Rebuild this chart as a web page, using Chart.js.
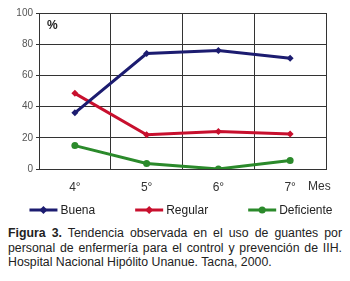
<!DOCTYPE html>
<html lang="es">
<head>
  <meta charset="UTF-8">
  <title>Tendencia uso de guantes</title>
  <script src="https://cdn.jsdelivr.net/npm/chart.js"></script>
  <style>
    body {
      margin: 0;
      width: 350px;
      height: 281px;
      background: #fff;
      font-family: Arial, "Liberation Sans", sans-serif;
      overflow: hidden;
    }
    #chart-container {
      width: 350px;
      height: 222px;
    }
    #caption {
      margin: 4px 8px 0 8px;
      font-size: 12.3px;
      line-height: 14.5px;
      color: #222;
      text-align: justify;
    }
  </style>
</head>
<body>
  <div id="chart-container">
    <canvas id="chart"></canvas>
  </div>
  <div id="caption"><b>Figura 3.</b> Tendencia observada en el uso de guantes por personal de enfermería para el control y prevención de IIH. Hospital Nacional Hipólito Unanue. Tacna, 2000.</div>
  <script>
    // datos
    const meses = ["4°", "5°", "6°", "7°"];
    const buena = [36, 74, 76, 71];
    const regular = [48.5, 22, 24, 22.5];
    const deficiente = [15, 3.5, 0, 5.5];

    const font = "Arial, 'Liberation Sans', sans-serif";

    // leyenda y textos extra dibujados en el canvas
    const extras = {
      id: "extras",
      afterDraw(chart) {
        const ctx = chart.ctx;
        const area = chart.chartArea;
        ctx.save();
        ctx.fillStyle = "#222";
        ctx.font = "bold 12px " + font;
        ctx.textBaseline = "middle";
        ctx.fillText("%", area.left + 8, area.top + 13);

        ctx.font = "12px " + font;
        ctx.fillStyle = "#333";
        ctx.fillText("Mes", 308, 187);

        // leyenda
        const sets = chart.data.datasets;
        const lineW = 28, gap = 40;
        const widths = sets.map(ds => lineW + 3 + ctx.measureText(ds.label).width);
        const total = widths.reduce((a, b) => a + b, 0) + gap * (sets.length - 1);
        let x = 181 - total / 2;
        const y = 210;
        sets.forEach((ds, i) => {
          ctx.strokeStyle = ds.borderColor;
          ctx.lineWidth = 3;
          ctx.beginPath();
          ctx.moveTo(x, y);
          ctx.lineTo(x + lineW, y);
          ctx.stroke();
          ctx.fillStyle = ds.borderColor;
          ctx.beginPath();
          const cx = x + lineW / 2;
          if (ds.pointStyle === "circle") {
            ctx.arc(cx, y, 3.5, 0, Math.PI * 2);
          } else {
            ctx.moveTo(cx, y - 4);
            ctx.lineTo(cx + 4, y);
            ctx.lineTo(cx, y + 4);
            ctx.lineTo(cx - 4, y);
            ctx.closePath();
          }
          ctx.fill();
          ctx.fillStyle = "#222";
          ctx.fillText(ds.label, x + lineW + 3, y + 1);
          x += widths[i] + gap;
        });
        ctx.restore();
      }
    };

    const ctx = document.getElementById("chart").getContext("2d");
    new Chart(ctx, {
      type: "line",
      data: {
        labels: meses,
        datasets: [
          {
            label: "Buena",
            data: buena,
            borderColor: "#1c1c70",
            backgroundColor: "#1c1c70",
            pointStyle: "rectRot",
          },
          {
            label: "Regular",
            data: regular,
            borderColor: "#c8102e",
            backgroundColor: "#c8102e",
            pointStyle: "rectRot",
          },
          {
            label: "Deficiente",
            data: deficiente,
            borderColor: "#2b8a2b",
            backgroundColor: "#2b8a2b",
            pointStyle: "circle",
          },
        ],
      },
      options: {
        responsive: true,
        maintainAspectRatio: false,
        animation: false,
        layout: { padding: { top: 13, right: 24, left: 0, bottom: 0 } },
        elements: {
          line: { borderWidth: 3, tension: 0 },
          point: { radius: 3.5, hoverRadius: 3.5, borderWidth: 0 },
        },
        plugins: {
          legend: { display: false },
          tooltip: { enabled: false },
        },
        scales: {
          x: {
            offset: true,
            grid: { color: "#333", lineWidth: 1, offset: true, drawTicks: false },
            border: { color: "#333" },
            ticks: { padding: 11, color: "#333", font: { size: 12, family: font } },
            afterFit(scale) { scale.height = 53; },
          },
          y: {
            min: 0,
            max: 100,
            ticks: { stepSize: 20, padding: 3, color: "#555", font: { size: 10, family: font } },
            grid: { color: "#333", lineWidth: 1, tickLength: 3 },
            border: { color: "#333" },
            afterFit(scale) { scale.width = 39; },
          },
        },
      },
      plugins: [extras],
    });
  </script>
</body>
</html>
